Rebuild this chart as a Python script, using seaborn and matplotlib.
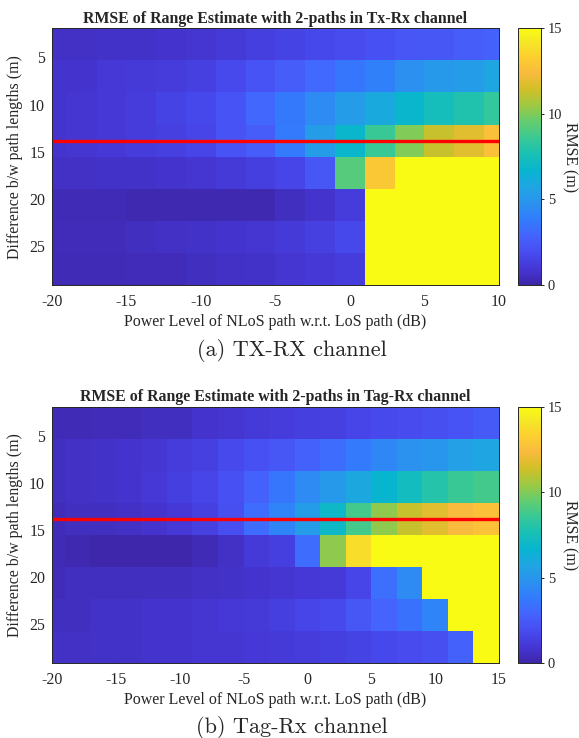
import numpy as np
import pandas as pd
import matplotlib
matplotlib.use("Agg")
import matplotlib.pyplot as plt
import seaborn as sns
from matplotlib.colors import LinearSegmentedColormap

sns.set_theme(style="ticks")
plt.rcParams['font.family'] = ['Liberation Serif', 'DejaVu Serif']

# --- DATA ---
path_diff = [3.4, 6.8, 10.2, 13.6, 17.0, 20.4, 23.8, 27.2]
power_tx = [-20, -18, -16, -14, -12, -10, -8, -6, -4, -2, 0, 2, 4, 6, 8, 10]
power_tag = [-20, -18, -16, -14, -12, -10, -8, -6, -4, -2, 0, 2, 4, 6, 8, 10, 12, 14]
threshold = 13.6

rmse_tx = [
    [0.6, 0.6, 0.7, 0.7, 0.8, 0.9, 1.1, 1.3, 1.5, 1.7, 1.9, 2.1, 2.3, 2.4, 2.6, 2.8],
    [0.8, 0.8, 1.0, 1.1, 1.2, 1.4, 1.8, 2.2, 2.6, 3.1, 3.6, 4.1, 4.7, 5.1, 5.3, 5.7],
    [0.8, 0.9, 1.0, 1.2, 1.5, 1.7, 2.2, 3.0, 3.7, 4.5, 5.3, 6.0, 6.8, 7.4, 7.9, 8.4],
    [0.8, 0.9, 1.0, 1.2, 1.4, 1.6, 2.2, 2.6, 3.8, 5.3, 6.8, 8.6, 10.0, 11.2, 11.8, 12.6],
    [0.6, 0.6, 0.7, 0.7, 0.8, 0.9, 1.1, 1.3, 1.6, 2.4, 9.2, 13.0, 15, 15, 15, 15],
    [0.3, 0.3, 0.3, 0.2, 0.2, 0.2, 0.2, 0.2, 0.5, 0.8, 1.2, 15, 15, 15, 15, 15],
    [0.4, 0.4, 0.4, 0.5, 0.6, 0.7, 0.8, 0.9, 1.1, 1.4, 1.7, 15, 15, 15, 15, 15],
    [0.3, 0.3, 0.3, 0.4, 0.4, 0.5, 0.6, 0.7, 0.9, 1.0, 1.2, 15, 15, 15, 15, 15],
]

rmse_tag = [
    [0.3, 0.3, 0.4, 0.4, 0.5, 0.5, 0.8, 0.9, 1.1, 1.2, 1.3, 1.4, 1.6, 1.8, 1.9, 2.0, 2.2, 2.5],
    [0.5, 0.6, 0.7, 0.8, 0.9, 1.2, 1.4, 1.8, 2.1, 2.4, 2.8, 3.2, 3.8, 4.3, 4.8, 5.0, 5.5, 5.7],
    [0.5, 0.6, 0.7, 0.8, 1.0, 1.3, 1.6, 2.1, 2.8, 3.6, 4.5, 5.1, 5.9, 6.7, 7.3, 8.0, 8.6, 8.8],
    [0.4, 0.5, 0.5, 0.6, 0.8, 1.0, 1.4, 2.0, 3.2, 4.2, 5.3, 7.0, 8.8, 10.2, 11.2, 11.8, 12.4, 12.7],
    [0.3, 0.2, 0.1, 0.1, 0.1, 0.1, 0.3, 0.6, 1.1, 1.3, 3.2, 10.2, 13.8, 15, 15, 15, 15, 15],
    [0.4, 0.5, 0.5, 0.5, 0.5, 0.5, 0.6, 0.7, 0.8, 0.9, 1.0, 1.1, 1.6, 3.3, 4.5, 15, 15, 15],
    [0.5, 0.5, 0.7, 0.7, 0.8, 0.8, 0.9, 1.0, 1.1, 1.3, 1.6, 1.8, 2.4, 2.9, 3.4, 4.2, 15, 15],
    [0.6, 0.6, 0.7, 0.7, 0.8, 0.8, 0.9, 0.9, 1.0, 1.1, 1.2, 1.3, 1.5, 1.7, 1.9, 2.0, 2.8, 15],
]

# MATLAB parula (subsampled anchors)
parula_pts = [
    (0.000, (0.2422, 0.1504, 0.6603)),
    (0.063, (0.2706, 0.2147, 0.8364)),
    (0.127, (0.2813, 0.3006, 0.9414)),
    (0.190, (0.2699, 0.3892, 0.9906)),
    (0.254, (0.1963, 0.4847, 0.9892)),
    (0.317, (0.1687, 0.5703, 0.9359)),
    (0.381, (0.1248, 0.6459, 0.8883)),
    (0.444, (0.0297, 0.7082, 0.8163)),
    (0.508, (0.0964, 0.7500, 0.7120)),
    (0.571, (0.2161, 0.7843, 0.5923)),
    (0.635, (0.3909, 0.8029, 0.4354)),
    (0.698, (0.6174, 0.7876, 0.2612)),
    (0.762, (0.8203, 0.7498, 0.1535)),
    (0.825, (0.9728, 0.7298, 0.2394)),
    (0.889, (0.9892, 0.8136, 0.1885)),
    (0.952, (0.9597, 0.9135, 0.1423)),
    (1.000, (0.9769, 0.9839, 0.0805)),
]
parula = LinearSegmentedColormap.from_list('parula', parula_pts, N=256)

FS = 11.4
edge = '#262626'


def to_pos(v, centers):
    step = centers[1] - centers[0]
    return (np.asarray(v, dtype=float) - centers[0]) / step + 0.5


def draw_panel(ax, cax, rmse, powers, title, xmax):
    df = pd.DataFrame(rmse, index=path_diff, columns=powers)
    sns.heatmap(df, ax=ax, cmap=parula, vmin=0, vmax=15, cbar_ax=cax,
                cbar_kws={'ticks': [0, 5, 10, 15]})

    # threshold line
    ax.axhline(to_pos(threshold, path_diff), color='red', lw=2.4)

    xt = list(range(-20, xmax + 1, 5))
    ax.set_xticks(to_pos(xt, powers))
    ax.set_xticklabels([str(v) for v in xt], rotation=0, fontsize=FS)
    ax.set_xlim(to_pos(-20, powers), to_pos(xmax, powers))
    yt = [5, 10, 15, 20, 25]
    ax.set_yticks(to_pos(yt, path_diff))
    ax.set_yticklabels([str(v) for v in yt], rotation=0, fontsize=FS)

    for s in ax.spines.values():
        s.set_visible(True)
        s.set_linewidth(0.7)
        s.set_color(edge)
    ax.tick_params(direction='in', top=True, right=True, length=3.5,
                   width=0.7, color=edge, labelcolor='#262626')
    ax.tick_params(axis='x', pad=6.5)
    ax.tick_params(axis='y', pad=5)

    ax.set_title(title, fontsize=FS, fontweight='bold', pad=4)
    ax.set_xlabel('Power Level of NLoS path w.r.t. LoS path (dB)',
                  fontsize=FS + 0.1, color='#262626', labelpad=3)
    ax.set_ylabel('Difference b/w path lengths (m)', fontsize=FS,
                  color='#262626', labelpad=4)

    cb = ax.collections[0].colorbar
    cb.outline.set_visible(True)
    cb.outline.set_linewidth(0.7)
    cb.outline.set_edgecolor(edge)
    cax.tick_params(direction='inout', length=4, width=0.7, color=edge,
                    labelsize=FS - 1, labelcolor='#262626', pad=3)
    cax.set_ylabel('RMSE (m)', rotation=270, fontsize=FS, labelpad=11,
                   color='#262626')


fig = plt.figure(figsize=(5.79, 7.38), dpi=100)
ax1 = fig.add_axes([0.0898, 0.6138, 0.772, 0.348])
cax1 = fig.add_axes([0.8946, 0.6138, 0.0397, 0.348])
ax2 = fig.add_axes([0.0898, 0.1016, 0.772, 0.347])
cax2 = fig.add_axes([0.8946, 0.1016, 0.0397, 0.347])

draw_panel(ax1, cax1, rmse_tx, power_tx,
           'RMSE of Range Estimate with 2-paths in Tx-Rx channel', 10)
draw_panel(ax2, cax2, rmse_tag, power_tag,
           'RMSE of Range Estimate with 2-paths in Tag-Rx channel', 15)

fig.text(0.504, 0.525, '(a) TX-RX channel', ha='center', va='center',
         fontsize=16, family=['cmr10', 'DejaVu Serif'])
fig.text(0.504, 0.014, '(b) Tag-Rx channel', ha='center', va='center',
         fontsize=16, family=['cmr10', 'DejaVu Serif'])

fig.savefig('out.png', dpi=100, facecolor='white')
